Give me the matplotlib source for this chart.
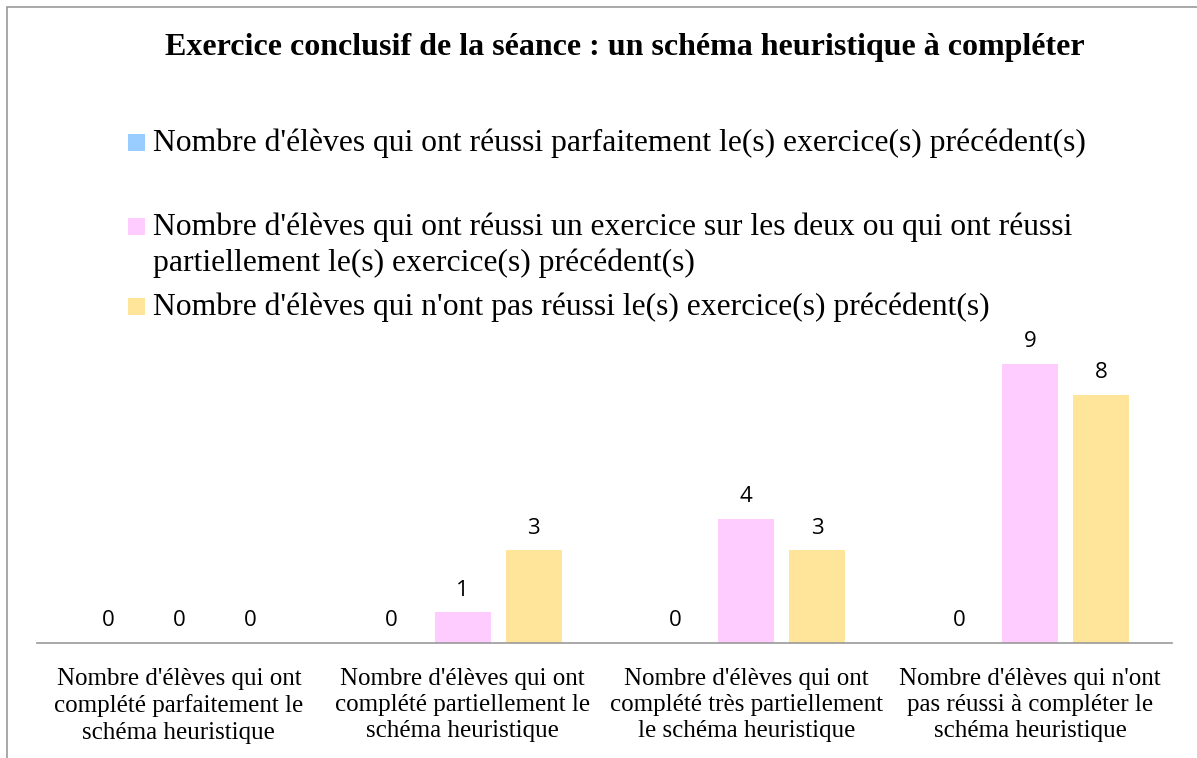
import matplotlib
matplotlib.use("Agg")
import matplotlib.pyplot as plt
from matplotlib.patches import Rectangle
import numpy as np

title = "Exercice conclusif de la séance : un schéma heuristique à compléter"
categories = [
    "Nombre d'élèves qui ont\ncomplété parfaitement le\nschéma heuristique",
    "Nombre d'élèves qui ont\ncomplété partiellement le\nschéma heuristique",
    "Nombre d'élèves qui ont\ncomplété très partiellement\nle schéma heuristique",
    "Nombre d'élèves qui n'ont\npas réussi à compléter le\nschéma heuristique",
]
series_names = [
    "Nombre d'élèves qui ont réussi parfaitement le(s) exercice(s) précédent(s)",
    "Nombre d'élèves qui ont réussi un exercice sur les deux ou qui ont réussi\npartiellement le(s) exercice(s) précédent(s)",
    "Nombre d'élèves qui n'ont pas réussi le(s) exercice(s) précédent(s)",
]
reussi_parfait = [0, 0, 0, 0]
reussi_partiel = [0, 1, 4, 9]
pas_reussi = [0, 3, 3, 8]
series_values = [reussi_parfait, reussi_partiel, pas_reussi]
colors = ["#99CCFF", "#FFCCFF", "#FFE599"]

W, H = 1197, 758
fig = plt.figure(figsize=(W / 100, H / 100), dpi=100)
fig.patch.set_facecolor("white")

def fx(px):
    return px / W

def fy(py):
    return 1 - py / H

# chart border (cropped at right/bottom)
fig.patches.append(Rectangle((fx(7), fy(800)), fx(1250) - fx(7), fy(7) - fy(800),
                             transform=fig.transFigure, fill=False,
                             edgecolor="#999999", linewidth=1.2))

ax = fig.add_axes([fx(37), fy(643), fx(1172) - fx(37), fy(333) - fy(643)])
x = np.arange(len(categories))
offsets = [-0.25, 0.0, 0.25]
for vals, off, c in zip(series_values, offsets, colors):
    bars = ax.bar(x + off, vals, width=0.197, color=c, edgecolor="none")
    for b, v in zip(bars, vals):
        ax.annotate(str(v), (b.get_x() + b.get_width() / 2, v),
                    xytext=(0, 22), textcoords="offset pixels",
                    ha="center", va="center", fontsize=16,
                    family="Open Sans", color="black")

ax.set_xlim(-0.5, 3.5)
ax.set_ylim(0, 10)
for s in ["left", "right", "top"]:
    ax.spines[s].set_visible(False)
ax.spines["bottom"].set_color("#999999")
ax.spines["bottom"].set_linewidth(1.2)
ax.set_yticks([])
ax.set_xticks(x)
ax.set_xticklabels(categories, family="Liberation Serif", fontsize=18,
                   linespacing=1.25)
ax.tick_params(axis="x", length=0, pad=18)
ax.patch.set_alpha(0)

fig.text(fx(625), fy(48), title, ha="center", va="center",
         family="Liberation Serif", fontweight="bold", fontsize=23)

# legend
leg_y = [143, 227, 307]
line_step = 36
for name, c, yy in zip(series_names, colors, leg_y):
    fig.patches.append(Rectangle((fx(128), fy(yy + 8)), fx(145) - fx(128), fy(yy - 9) - fy(yy + 8),
                                 transform=fig.transFigure, facecolor=c, edgecolor="none"))
    for i, line in enumerate(name.split("\n")):
        fig.text(fx(153), fy(yy + i * line_step), line, ha="left", va="center",
                 family="Liberation Serif", fontsize=22.8)

fig.savefig("out.png", dpi=100)
